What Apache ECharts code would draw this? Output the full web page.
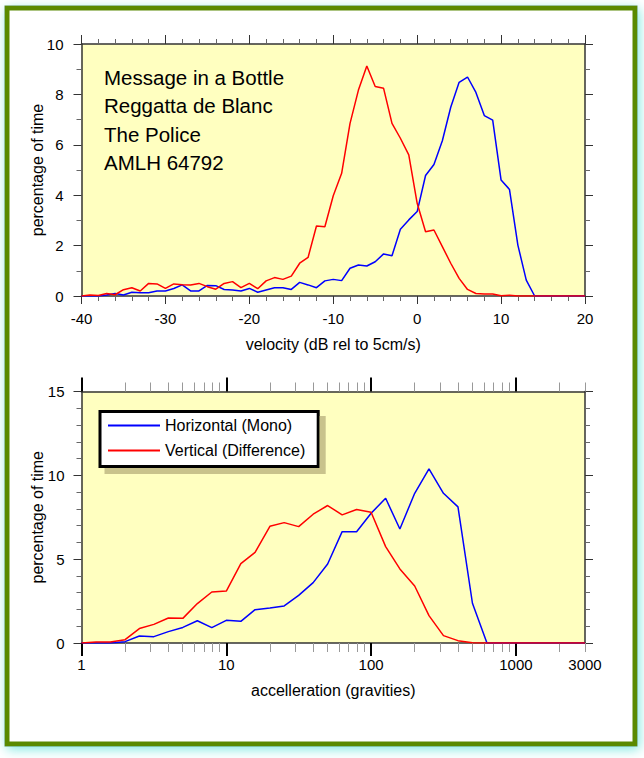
<!DOCTYPE html>
<html><head><meta charset="utf-8">
<script src="https://cdn.jsdelivr.net/npm/echarts@6/dist/echarts.min.js"></script>
<style>html,body{margin:0;padding:0;background:#fff;}#c{width:644px;height:758px;}</style>
</head><body><div id="c"></div>
<script>
// ---- data ----
const velocity = [-40,-39,-38,-37,-36,-35,-34,-33,-32,-31,-30,-29,-28,-27,-26,-25,-24,-23,-22,-21,-20,-19,-18,-17,-16,-15,-14,-13,-12,-11,-10,-9,-8,-7,-6,-5,-4,-3,-2,-1,0,1,2,3,4,5,6,7,8,9,10,11,12,13,14,15,16,17,18,19,20];
const velHorizontal = [0,0,0,0.04,0.1,0.04,0.15,0.13,0.13,0.2,
  0.2,0.3,0.44,0.2,0.2,0.42,0.41,0.26,0.24,0.2,
  0.3,0.15,0.24,0.33,0.33,0.26,0.54,0.44,0.33,0.6,
  0.66,0.61,1.1,1.23,1.19,1.36,1.67,1.6,2.65,3.02,
  3.35,4.78,5.22,6.16,7.49,8.48,8.69,8.08,7.16,6.98,
  4.6,4.23,2.02,0.63,0,0,0,0,0,0,
  0];
const velVertical = [0,0.04,0.02,0.1,0.05,0.25,0.33,0.2,0.5,0.48,
  0.3,0.48,0.45,0.44,0.5,0.37,0.27,0.5,0.57,0.33,
  0.5,0.29,0.6,0.73,0.66,0.79,1.3,1.53,2.78,2.75,
  3.98,4.87,6.85,8.17,9.13,8.31,8.24,6.85,6.26,5.6,
  3.68,2.55,2.62,1.96,1.3,0.7,0.26,0.1,0.08,0.08,
  0.01,0.03,0,0,0,0,0,0,0,0,
  0];
const accel = [1,1.26,1.58,2,2.51,3.16,3.98,5.01,6.31,7.94,
  10,12.6,15.8,20,25.1,31.6,39.8,50.1,63.1,79.4,
  100,126,158,200,251,316,398,501,631,794,
  1000,1260,1580,2000,2510,3000];
const accHorizontal = [0,0,0,0.08,0.42,0.38,0.68,0.93,1.33,0.92,
  1.35,1.29,1.99,2.09,2.21,2.84,3.6,4.71,6.64,6.64,
  7.74,8.63,6.8,8.93,10.38,8.93,8.12,2.37,0,0,
  0,0,0,0,0,0];
const accVertical = [0,0.06,0.06,0.2,0.86,1.11,1.49,1.47,2.35,3.04,
  3.1,4.73,5.41,6.96,7.18,6.94,7.68,8.2,7.64,7.96,
  7.8,5.75,4.42,3.4,1.63,0.44,0.14,0.02,0,0,
  0,0,0,0,0,0];
const accTickLabels = [1,10,100,1000,3000];
const accMajorTicks = [1,10,100,1000];
const accMinorTicks = [2,3,4,5,6,7,8,9,20,30,40,50,60,70,80,90,200,300,400,500,600,700,800,900,2000,3000];
const seriesNames = ['Horizontal (Mono)','Vertical (Difference)'];
const annotation = ['Message in a Bottle','Reggatta de Blanc','The Police','AMLH 64792'];

// ---- chart ----
const FONT = '"Liberation Sans", Arial, Helvetica, sans-serif';
const lg = Math.log10;
const ACC_MIN = lg(accTickLabels[0]);
const ACC_MAX = lg(accTickLabels[accTickLabels.length - 1]);
const lineCol = '#333';

function baseAxis(extra) {
  return Object.assign({
    type: 'value',
    axisLine: { show: true, onZero: false, lineStyle: { color: lineCol, width: 1.5 } },
    axisTick: { show: true, inside: false, length: 8, lineStyle: { color: lineCol, width: 1 } },
    axisLabel: { show: false },
    splitLine: { show: false },
    minorSplitLine: { show: false }
  }, extra);
}
const labelStyle = (margin) => ({ show: true, fontSize: 15, color: '#000', fontFamily: FONT, margin: margin });
const nameStyle = { fontSize: 16, color: '#000', fontFamily: FONT };

const chart = echarts.init(document.getElementById('c'), null, { renderer: 'svg', width: 644, height: 758 });
chart.setOption({
  animation: false,
  textStyle: { fontFamily: FONT },
  grid: [
    { left: 81.5, top: 44, width: 503.5, height: 252, show: true, backgroundColor: '#ffffc0', borderWidth: 0 },
    { left: 81.5, top: 391.5, width: 503.5, height: 251.5, show: true, backgroundColor: '#ffffc0', borderWidth: 0 }
  ],
  xAxis: [
    baseAxis({ gridIndex: 0, position: 'bottom', min: -40, max: 20, interval: 10,
      minorTick: { show: true, splitNumber: 5, length: 5, lineStyle: { color: '#666' } },
      axisLabel: labelStyle(15),
      name: 'velocity (dB rel to 5cm/s)', nameLocation: 'middle', nameGap: 40, nameTextStyle: nameStyle }),
    baseAxis({ gridIndex: 0, position: 'top', min: -40, max: 20, interval: 10,
      axisTick: { show: true, length: 9, lineStyle: { color: lineCol } },
      minorTick: { show: true, splitNumber: 5, length: 5, lineStyle: { color: '#666' } } }),
    baseAxis({ gridIndex: 1, position: 'bottom', min: ACC_MIN, max: ACC_MAX,
      axisTick: { show: true, length: 13, customValues: accMajorTicks.map(lg), lineStyle: { color: '#000', width: 2 } },
      axisLabel: Object.assign(labelStyle(14), { customValues: accTickLabels.map(lg),
        formatter: v => String(Math.round(Math.pow(10, v))) }),
      name: 'accelleration (gravities)', nameLocation: 'middle', nameGap: 39, nameTextStyle: nameStyle }),
    baseAxis({ gridIndex: 1, position: 'bottom', min: ACC_MIN, max: ACC_MAX,
      axisLine: { show: false, onZero: false },
      axisTick: { show: true, length: 9, customValues: accMinorTicks.map(lg), lineStyle: { color: '#999', width: 1 } } }),
    baseAxis({ gridIndex: 1, position: 'top', min: ACC_MIN, max: ACC_MAX,
      axisTick: { show: true, length: 14, customValues: accMajorTicks.map(lg), lineStyle: { color: '#000', width: 2 } } }),
    baseAxis({ gridIndex: 1, position: 'top', min: ACC_MIN, max: ACC_MAX,
      axisLine: { show: false, onZero: false },
      axisTick: { show: true, length: 9, customValues: accMinorTicks.map(lg), lineStyle: { color: '#999', width: 1 } } })
  ],
  yAxis: [
    baseAxis({ gridIndex: 0, position: 'left', min: 0, max: 10, interval: 2,
      minorTick: { show: true, splitNumber: 2, length: 5, lineStyle: { color: '#666' } },
      axisLabel: labelStyle(18),
      name: 'percentage of time', nameLocation: 'middle', nameGap: 36, nameMoveOverlap: false, nameTextStyle: nameStyle }),
    baseAxis({ gridIndex: 0, position: 'right', min: 0, max: 10, interval: 2,
      minorTick: { show: true, splitNumber: 2, length: 5, lineStyle: { color: '#666' } } }),
    baseAxis({ gridIndex: 1, position: 'left', min: 0, max: 15, interval: 5,
      minorTick: { show: true, splitNumber: 5, length: 5, lineStyle: { color: '#666' } },
      axisLabel: labelStyle(17),
      name: 'percentage of time', nameLocation: 'middle', nameGap: 36, nameMoveOverlap: false, nameTextStyle: nameStyle }),
    baseAxis({ gridIndex: 1, position: 'right', min: 0, max: 15, interval: 5,
      minorTick: { show: true, splitNumber: 5, length: 5, lineStyle: { color: '#666' } } })
  ],
  legend: {
    data: seriesNames, orient: 'vertical', left: 100, top: 411.5,
    padding: [5, 13, 7, 8], itemWidth: 52, itemHeight: 2, itemGap: 7, icon: 'rect',
    backgroundColor: '#fff', borderColor: '#000', borderWidth: 3, borderRadius: 0,
    shadowColor: '#c9c38c', shadowOffsetX: 6, shadowOffsetY: 6, shadowBlur: 0,
    selectedMode: false,
    textStyle: { fontSize: 16, color: '#000', fontFamily: FONT, lineHeight: 18 }
  },
  graphic: [
    { type: 'rect', z: -100, shape: { x: 7, y: 8, width: 628, height: 736 },
      style: { fill: '#fff', stroke: '#5a8a04', lineWidth: 5, shadowBlur: 12,
        shadowColor: 'rgba(90,225,215,0.75)', shadowOffsetX: 2, shadowOffsetY: 3 } },
    { type: 'text', z: 50, left: 104, top: 63.5,
      style: { text: annotation.join('\n'), fontSize: 20.5, lineHeight: 28.3, fill: '#000', fontFamily: FONT } }
  ],
  series: [
    { name: seriesNames[0], type: 'line', xAxisIndex: 0, yAxisIndex: 0, showSymbol: false, symbol: 'none',
      color: '#0000ff', lineStyle: { width: 1.5, color: '#0000ff' },
      data: velocity.map((v, i) => [v, velHorizontal[i]]) },
    { name: seriesNames[1], type: 'line', xAxisIndex: 0, yAxisIndex: 0, showSymbol: false, symbol: 'none',
      color: '#ff0000', lineStyle: { width: 1.5, color: '#ff0000' },
      data: velocity.map((v, i) => [v, velVertical[i]]) },
    { name: seriesNames[0], type: 'line', xAxisIndex: 2, yAxisIndex: 2, showSymbol: false, symbol: 'none',
      color: '#0000ff', lineStyle: { width: 1.5, color: '#0000ff' },
      data: accel.map((a, i) => [lg(a), accHorizontal[i]]) },
    { name: seriesNames[1], type: 'line', xAxisIndex: 2, yAxisIndex: 2, showSymbol: false, symbol: 'none',
      color: '#ff0000', lineStyle: { width: 1.5, color: '#ff0000' },
      data: accel.map((a, i) => [lg(a), accVertical[i]]) }
  ]
});
</script>
</body></html>
